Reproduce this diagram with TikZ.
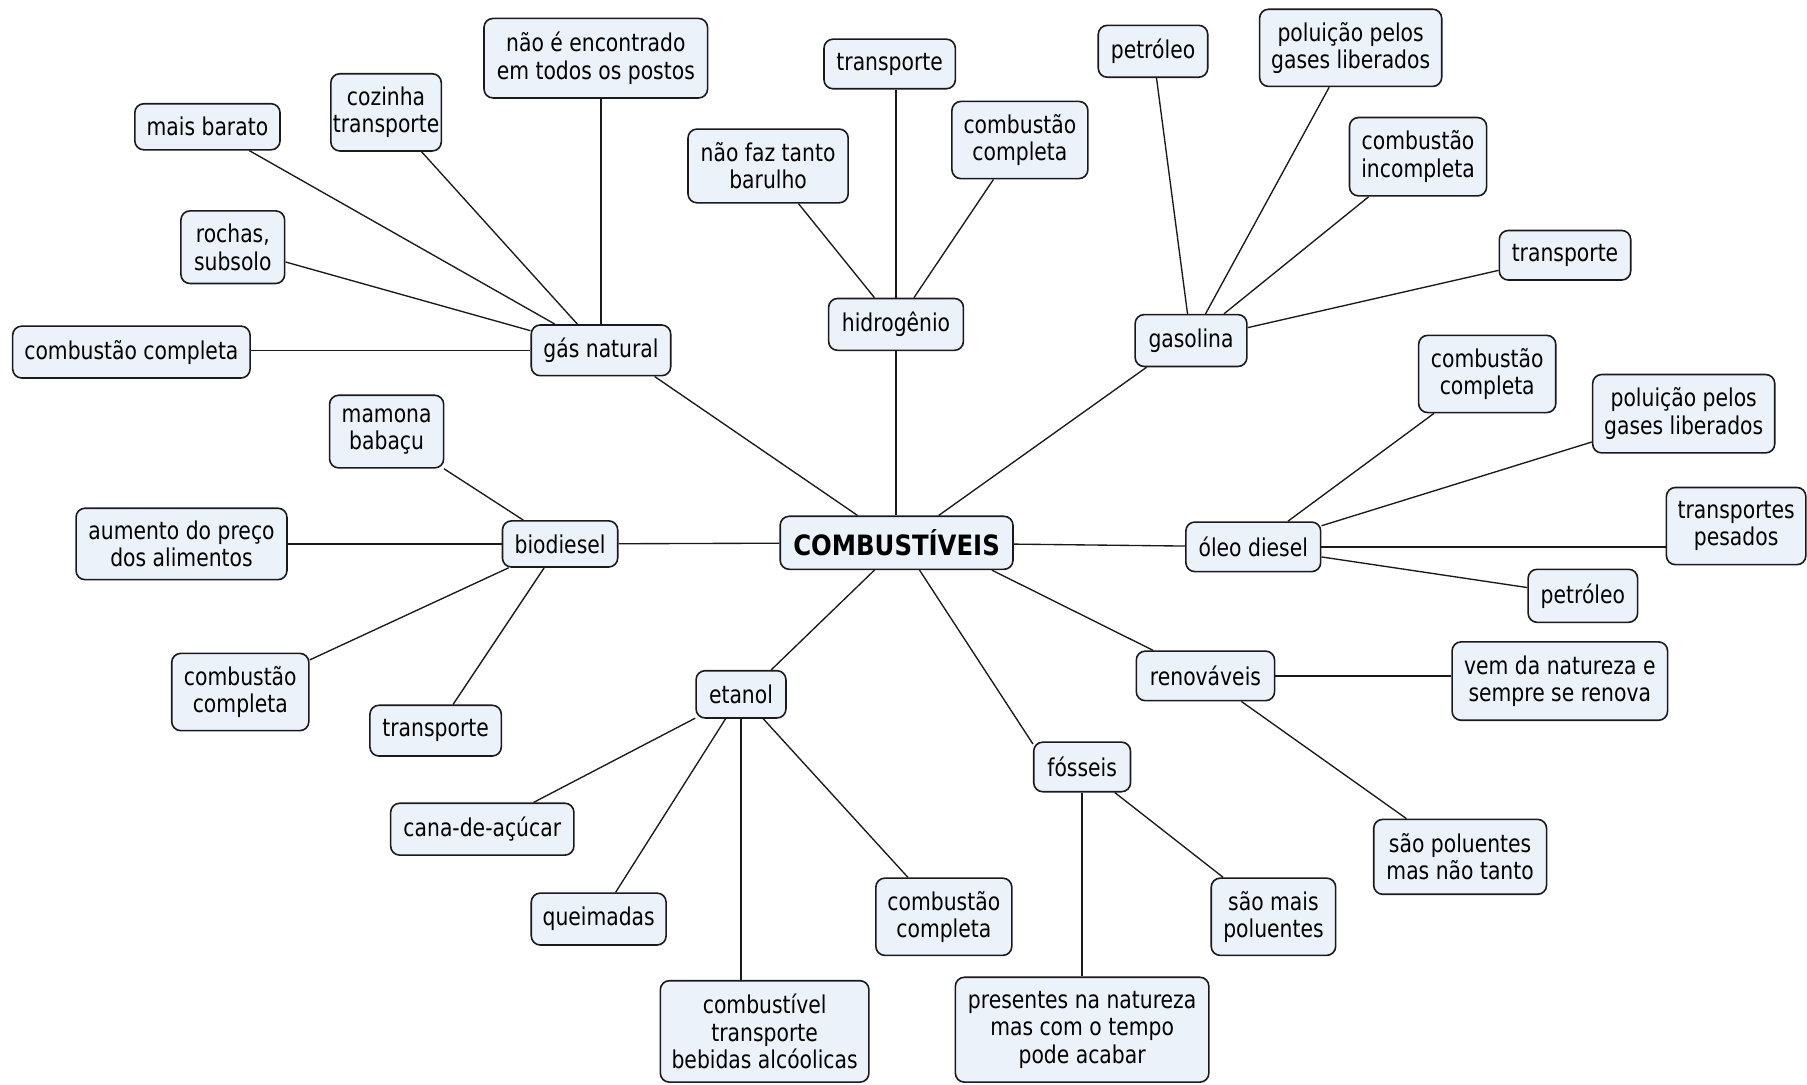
\documentclass[tikz,border=0pt]{standalone}
\usepackage{fontspec}
\setmainfont{DejaVu Sans}[FakeStretch=0.83]
\newfontfamily\hubfont{DejaVu Sans}[FakeStretch=0.87]
\definecolor{boxfill}{HTML}{EBF2F9}
\definecolor{ink}{HTML}{1A1A1A}
\tikzset{
  concept/.style={draw=ink, fill=boxfill, line width=1.6pt, rounded corners=9pt,
    align=center, inner sep=2pt, font=\fontsize{24.5}{27.4}\selectfont},
  sz/.style 2 args={minimum width=#1*1.1524pt, minimum height=#2*1.1524pt},
  link/.style={draw=ink, line width=1.35pt}
}
\begin{document}
\begin{tikzpicture}[x=1.1524pt,y=-1.1524pt]
\useasboundingbox (0,0) rectangle (1568,941);
\fill[white] (0,0) rectangle (1568,941);

% central concept and its branches
\node[concept, sz={202}{46}, font=\hubfont\bfseries\fontsize{28}{32}\selectfont] (hub) at (778,471) {COMBUSTÍVEIS};
\node[concept, sz={121}{44}] (gas) at (521.5,304) {gás natural};
\node[concept, sz={117}{45}] (hid) at (777.5,281.5) {hidrogênio};
\node[concept, sz={97}{45}] (gaso) at (1033.5,295.5) {gasolina};
\node[concept, sz={117}{43}] (oleo) at (1087.5,474.5) {óleo diesel};
\node[concept, sz={120}{43}] (renov) at (1046,586.5) {renováveis};
\node[concept, sz={84}{43}] (foss) at (939,665.5) {fósseis};
\node[concept, sz={78}{41}] (etanol) at (643,602.5) {etanol};
\node[concept, sz={100}{40}] (bio) at (486,472) {biodiesel};

% gás natural
\node[concept, sz={126}{40}] (g1) at (180,110) {mais barato};
\node[concept, sz={86}{67}] (g2) at (335,97.5) {cozinha\\transporte};
\node[concept, sz={194}{69}] (g3) at (517,50.5) {não é encontrado\\em todos os postos};
\node[concept, sz={90}{63}] (g4) at (202,214.5) {rochas,\\subsolo};
\node[concept, sz={206}{45}] (g5) at (114,305.5) {combustão completa};

% hidrogênio
\node[concept, sz={114}{43}] (h1) at (772,55.5) {transporte};
\node[concept, sz={139}{64}] (h2) at (666.5,144) {não faz tanto\\barulho};
\node[concept, sz={118}{67}] (h3) at (885,121.5) {combustão\\completa};

% gasolina
\node[concept, sz={95}{45}] (s1) at (1000.5,44.5) {petróleo};
\node[concept, sz={158}{67}] (s2) at (1172,41.5) {poluição pelos\\gases liberados};
\node[concept, sz={119}{68}] (s3) at (1230.5,136) {combustão\\incompleta};
\node[concept, sz={114}{43}] (s4) at (1358,221.5) {transporte};

% óleo diesel
\node[concept, sz={119}{67}] (o1) at (1290.5,324.5) {combustão\\completa};
\node[concept, sz={158}{68}] (o2) at (1461,359) {poluição pelos\\gases liberados};
\node[concept, sz={121}{67}] (o3) at (1506.5,456.5) {transportes\\pesados};
\node[concept, sz={95}{46}] (o4) at (1373.5,517) {petróleo};

% renováveis
\node[concept, sz={187}{68}] (r1) at (1353.5,591) {vem da natureza e\\sempre se renova};
\node[concept, sz={150}{65}] (r2) at (1267,743.5) {são poluentes\\mas não tanto};

% fósseis
\node[concept, sz={108}{67}] (f1) at (1105,795.5) {são mais\\poluentes};
\node[concept, sz={220}{91}] (f2) at (939,893.5) {presentes na natureza\\mas com o tempo\\pode acabar};

% etanol
\node[concept, sz={159}{45}] (e1) at (418.5,719.5) {cana-de-açúcar};
\node[concept, sz={117}{45}] (e2) at (519.5,797.5) {queimadas};
\node[concept, sz={181}{88}] (e3) at (663.5,895) {combustível\\transporte\\bebidas alcóolicas};
\node[concept, sz={118}{67}] (e4) at (819,795.5) {combustão\\completa};

% biodiesel
\node[concept, sz={99}{63}] (b1) at (335.5,374.5) {mamona\\babaçu};
\node[concept, sz={183}{62}] (b2) at (157.5,472) {aumento do preço\\dos alimentos};
\node[concept, sz={119}{67}] (b3) at (208.5,600.5) {combustão\\completa};
\node[concept, sz={114}{44}] (b4) at (378,634) {transporte};

% links from the central concept
\draw[link] (hub.145.6) -- (gas.-26);
\draw[link] (hid.south) -- (hid.south |- hub.north);
\draw[link] (hub.33) -- (gaso.211.6);
\draw[link] (hub) -- (oleo);
\draw[link] (hub.-16) -- (renov.154.3);
\draw[link] (hub.-50) -- (foss.155);
\draw[link] (hub.-129) -- (etanol.39);
\draw[link] (hub) -- (bio);

% gás natural links
\draw[link] (g1) -- (gas);
\draw[link] (g2) -- (gas);
\draw[link] (gas.north) -- (gas.north |- g3.south);
\draw[link] (g4) -- (gas);
\draw[link] (gas.west) -- (gas.west -| g5.east);

% hidrogênio links
\draw[link] (hid.north) -- (hid.north |- h1.south);
\draw[link] (h2) -- (hid);
\draw[link] (h3) -- (hid);

% gasolina links
\draw[link] (s1) -- (gaso);
\draw[link] (s2) -- (gaso);
\draw[link] (s3) -- (gaso);
\draw[link] (s4) -- (gaso);

% óleo diesel links
\draw[link] (o1) -- (oleo);
\draw[link] (o2) -- (oleo);
\draw[link] (oleo.east) -- (oleo.east -| o3.west);
\draw[link] (o4) -- (oleo);

% renováveis links
\draw[link] (renov.east) -- (renov.east -| r1.west);
\draw[link] (r2) -- (renov);

% fósseis links
\draw[link] (f1) -- (foss);
\draw[link] (foss.south) -- (foss.south |- f2.north);

% etanol links
\draw[link] (e1) -- (etanol);
\draw[link] (e2) -- (etanol);
\draw[link] (etanol.south) -- (etanol.south |- e3.north);
\draw[link] (e4) -- (etanol);

% biodiesel links
\draw[link] (b1) -- (bio);
\draw[link] (bio.west) -- (bio.west -| b2.east);
\draw[link] (b3) -- (bio);
\draw[link] (b4) -- (bio);
\end{tikzpicture}
\end{document}
